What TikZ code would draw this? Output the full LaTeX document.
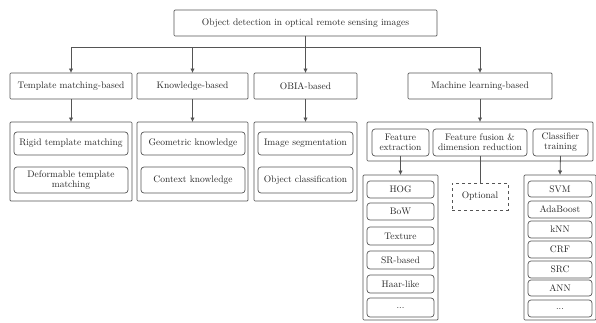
\documentclass[tikz,border=0pt]{standalone}
\usetikzlibrary{arrows.meta}
\definecolor{ln}{HTML}{555555}
\newcommand{\bx}[7][]{%
  \node[#1, minimum width={(#5-#3)*1pt}, minimum height={(#6-#4)*1pt}] (#2) at ({(#3+#5)/2},{-(#4+#6)/2}) {#7};}
\begin{document}
\begin{tikzpicture}[x=1pt,y=1pt,
  every node/.style={inner sep=0pt, outer sep=0pt, font=\fontsize{9.5}{10}\selectfont, text=black!85, align=center},
  sq/.style={draw=ln, line width=0.7pt, rounded corners=1pt},
  rb/.style={draw=ln, line width=0.7pt, rounded corners=3pt},
  op/.style={draw=ln, line width=0.6pt, dashed},
  arr/.style={draw=ln, line width=0.8pt, -{Latex[length=4.5pt,width=4.5pt]}},
  ln/.style={draw=ln, line width=0.8pt}]
\useasboundingbox (0,0) rectangle (596,-322);
% top
\bx[sq]{top}{174}{10}{437}{36}{Object detection in optical remote sensing images}
% level 2
\bx[sq]{tm}{10}{73}{132}{99}{Template matching-based}
\bx[sq]{kb}{137}{73}{248}{99}{Knowledge-based}
\bx[sq]{ob}{254}{73}{357}{99}{OBIA-based}
\bx[sq]{ml}{408}{73}{552}{99}{Machine learning-based}
\foreach \n in {tm,kb,ob,ml}
  \draw[arr] (top.south) -- (top.south |- 0,-47) -| (\n.north);
% level 3 containers
\bx[sq]{tmc}{10}{122}{132}{201}{}
\bx[sq]{kbc}{137}{122}{248}{201}{}
\bx[sq]{obc}{254}{122}{357}{201}{}
\bx[rb]{rtm}{14}{132}{128}{155}{Rigid template matching}
\bx[rb]{dtm}{14}{167}{128}{193}{Deformable template\\matching}
\bx[rb]{gk}{141}{132}{245}{155}{Geometric knowledge}
\bx[rb]{ck}{141}{167}{245}{193}{Context knowledge}
\bx[rb]{is}{258}{132}{353}{155}{Image segmentation}
\bx[rb]{oc}{258}{167}{353}{193}{Object classification}
\draw[arr] (tm.south) -- (tmc.north);
\draw[arr] (kb.south) -- (kbc.north);
\draw[arr] (ob.south) -- (obc.north);
% ML
\bx[sq]{mlc}{367}{122}{593}{161}{}
\draw[arr] (ml.south) -- (mlc.north);
\bx[rb]{fe}{372}{129}{429}{156}{Feature\\extraction}
\bx[rb]{ff}{433}{129}{527}{156}{Feature fusion \&\\dimension reduction}
\bx[rb]{ct}{533}{129}{588}{156}{Classifier\\training}
\bx[sq]{fec}{363}{175}{438}{320}{}
\bx[sq]{ctc}{524}{175}{596}{320}{}
\bx[op]{opt}{452}{183}{508}{210}{Optional}
\draw[arr] (fe.south) -- (fec.north);
\draw[ln] (ff.south) -- (opt.north);
\draw[arr] (ct.south) -- (ctc.north);
% feature list
\bx[rb]{f1}{367}{181}{434}{198}{HOG}
\bx[rb]{f2}{367}{203}{434}{220}{BoW}
\bx[rb]{f3}{367}{227}{434}{245}{Texture}
\bx[rb]{f4}{367}{251}{434}{269}{SR-based}
\bx[rb]{f5}{367}{275}{434}{293}{Haar-like}
\bx[rb]{f6}{367}{298}{434}{317}{...}
% classifier list
\bx[rb]{c1}{528}{181}{592}{197}{SVM}
\bx[rb]{c2}{528}{201}{592}{218}{AdaBoost}
\bx[rb]{c3}{528}{221}{592}{238}{kNN}
\bx[rb]{c4}{528}{241}{592}{258}{CRF}
\bx[rb]{c5}{528}{261}{592}{278}{SRC}
\bx[rb]{c6}{528}{280}{592}{296}{ANN}
\bx[rb]{c7}{528}{300}{592}{317}{...}
\end{tikzpicture}
\end{document}
